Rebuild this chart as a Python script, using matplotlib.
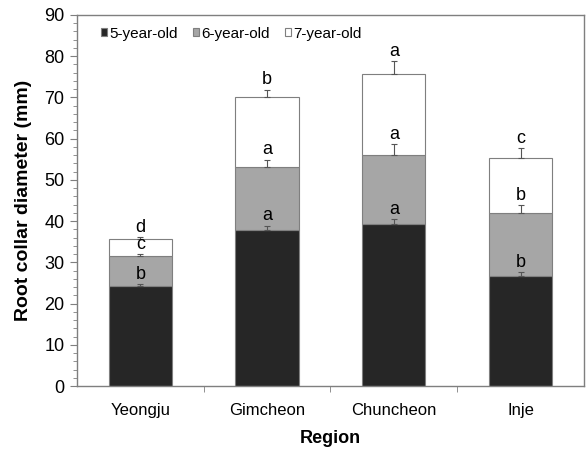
import matplotlib.pyplot as plt
from matplotlib.patches import Patch
from matplotlib.ticker import MultipleLocator
import numpy as np

plt.rcParams['font.family'] = ['Liberation Sans', 'DejaVu Sans']

# Root collar diameter (mm) by region and tree age, stacked
regions = ['Yeongju', 'Gimcheon', 'Chuncheon', 'Inje']
age5 = [24.3, 37.9, 39.2, 26.7]
age6 = [7.2, 15.2, 16.8, 15.3]
age7 = [4.2, 17.0, 19.6, 13.2]
err5 = [0.5, 1.0, 1.3, 1.0]
err6 = [0.5, 1.8, 2.6, 1.8]
err7 = [0.5, 1.8, 3.1, 2.5]
letters5 = ['b', 'a', 'a', 'b']
letters6 = ['c', 'a', 'a', 'b']
letters7 = ['d', 'b', 'a', 'c']

colors = ['#262626', '#a6a6a6', '#ffffff']
labels = ['5-year-old', '6-year-old', '7-year-old']
edge = '#7f7f7f'

fig = plt.figure(figsize=(5.88, 4.5), dpi=100)
ax = fig.add_axes([0.131, 0.142, 0.862, 0.825])

x = np.arange(len(regions))
width = 0.5
bottom = np.zeros(len(regions))
for vals, errs, lets, col in zip([age5, age6, age7], [err5, err6, err7],
                                 [letters5, letters6, letters7], colors):
    vals = np.array(vals)
    ax.bar(x, vals, width, bottom=bottom, color=col, edgecolor=edge,
           linewidth=0.8, zorder=2)
    tops = bottom + vals
    ax.errorbar(x, tops, yerr=[np.zeros(len(x)), errs], fmt='none',
                ecolor='#555555', elinewidth=0.8, capsize=2.5, capthick=0.8,
                zorder=3)
    for xi, t, e, l in zip(x, tops, errs, lets):
        ax.text(xi, t + e + 0.3, l, ha='center', va='bottom', fontsize=13,
                zorder=4)
    bottom = tops

ax.set_xlim(-0.5, 3.5)
ax.set_ylim(0, 90)
ax.yaxis.set_major_locator(MultipleLocator(10))
ax.yaxis.set_minor_locator(MultipleLocator(2))
ax.set_xticks(x)
ax.set_xticklabels(regions, fontsize=12)
ax.set_xticks(np.arange(0.5, 3, 1), minor=True)
ax.tick_params(axis='x', which='major', length=0, pad=12)
ax.tick_params(axis='x', which='minor', length=4, direction='out', color=edge)
ax.tick_params(axis='y', which='major', length=5, labelsize=13, color=edge,
               pad=4)
ax.tick_params(axis='y', which='minor', length=3, color=edge)
for s in ax.spines.values():
    s.set_color(edge)
    s.set_linewidth(1.0)

ax.set_ylabel('Root collar diameter (mm)', fontsize=14, fontweight='bold',
              labelpad=9)
ax.set_xlabel('Region', fontsize=13, fontweight='bold', labelpad=9)

handles = [Patch(facecolor=c, edgecolor=edge, linewidth=0.8) for c in colors]
ax.legend(handles, labels, loc='upper left', bbox_to_anchor=(0.02, 1.005),
          ncol=3, frameon=False, fontsize=11, handlelength=0.4,
          handleheight=0.4, handletextpad=0.15, columnspacing=1.0)

fig.savefig('out.png', dpi=100)
